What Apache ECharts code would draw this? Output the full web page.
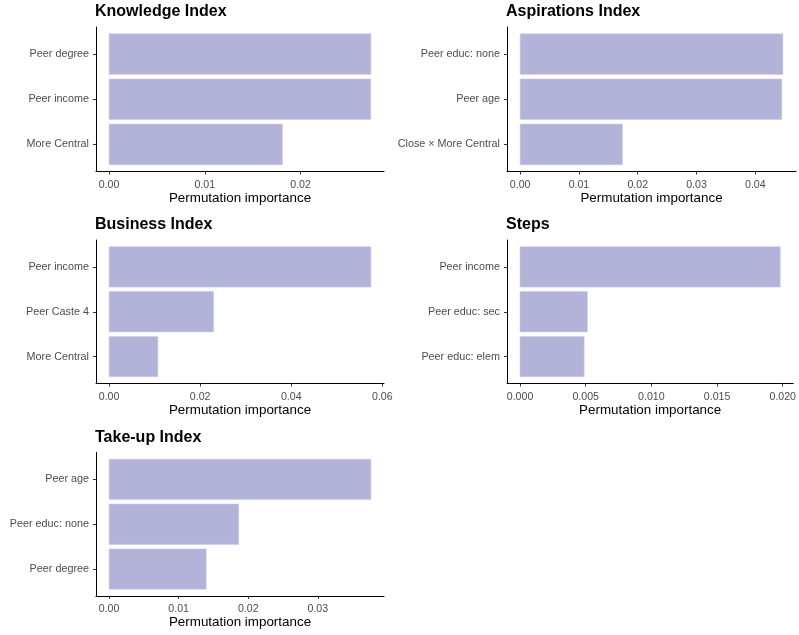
<!DOCTYPE html>
<html>
<head>
<meta charset="utf-8">
<title>Permutation importance</title>
<script src="https://cdn.jsdelivr.net/npm/echarts@6/dist/echarts.min.js"></script>
<style>
  html, body { margin: 0; padding: 0; background: #ffffff; }
  #chart { width: 799px; height: 635px; }
</style>
</head>
<body>
<div id="chart"></div>
<script>
// Top three predictors per outcome, ordered top to bottom
const knowledgeLabels = ['Peer degree', 'Peer income', 'More Central'];
const knowledgeValues = [0.02736, 0.02734, 0.01811];
const knowledgeTicks = [0, 0.01, 0.02];

const aspirationsLabels = ['Peer educ: none', 'Peer age', 'Close \u00d7 More Central'];
const aspirationsValues = [0.04468, 0.04450, 0.01740];
const aspirationsTicks = [0, 0.01, 0.02, 0.03, 0.04];

const businessLabels = ['Peer income', 'Peer Caste 4', 'More Central'];
const businessValues = [0.05749, 0.02295, 0.01071];
const businessTicks = [0, 0.02, 0.04, 0.06];

const stepsLabels = ['Peer income', 'Peer educ: sec', 'Peer educ: elem'];
const stepsValues = [0.01981, 0.00513, 0.00488];
const stepsTicks = [0, 0.005, 0.010, 0.015, 0.020];

const takeupLabels = ['Peer age', 'Peer educ: none', 'Peer degree'];
const takeupValues = [0.03763, 0.01863, 0.01396];
const takeupTicks = [0, 0.01, 0.02, 0.03];

const FONT = 'Liberation Sans, Helvetica, Arial, sans-serif';
const BAR_FILL = '#b3b3d9';

const panels = [
  { title: 'Knowledge Index',  labels: knowledgeLabels,   values: knowledgeValues,   ticks: knowledgeTicks,   digits: 2, box: [96, 27, 288, 144.5] },
  { title: 'Aspirations Index', labels: aspirationsLabels, values: aspirationsValues, ticks: aspirationsTicks, digits: 2, box: [507, 27, 289, 144.5] },
  { title: 'Business Index',   labels: businessLabels,    values: businessValues,    ticks: businessTicks,    digits: 2, box: [96, 240, 288, 143.5] },
  { title: 'Steps',            labels: stepsLabels,       values: stepsValues,       ticks: stepsTicks,       digits: 3, box: [507, 240, 289, 143.5] },
  { title: 'Take-up Index',    labels: takeupLabels,      values: takeupValues,      ticks: takeupTicks,      digits: 2, box: [96, 452.5, 288, 143.5] }
];

// Horizontal bar drawn from the value-axis origin to the bar's value
function renderBar(params, api) {
  const pos = api.value(1);
  const start = api.coord([0, pos]);
  const end = api.coord([api.value(0), pos]);
  const h = api.size([0, 0.9])[1];
  return {
    type: 'rect',
    shape: { x: start[0], y: start[1] - h / 2, width: end[0] - start[0], height: h },
    style: { fill: BAR_FILL, stroke: '#cbcbe6', lineWidth: 0.6 }
  };
}

const grid = [], xAxis = [], yAxis = [], series = [], title = [];

panels.forEach((p, i) => {
  const [left, top, width, height] = p.box;
  const maxVal = Math.max(...p.values);
  grid.push({ left: left, top: top, width: width, height: height, containLabel: false });

  title.push({
    text: p.title,
    left: left - 1,
    top: top - 23,
    padding: 0,
    textStyle: { fontFamily: FONT, fontSize: 16, fontWeight: 'bold', color: '#000000' }
  });

  xAxis.push({
    type: 'value',
    gridIndex: i,
    min: -0.05 * maxVal,
    max: 1.05 * maxVal,
    name: 'Permutation importance',
    nameLocation: 'middle',
    nameGap: 20,
    nameTextStyle: { fontFamily: FONT, fontSize: 13.4, color: '#000000' },
    axisLine: { show: true, onZero: false, lineStyle: { color: '#000000', width: 1 } },
    axisTick: { show: true, length: 3, customValues: p.ticks, lineStyle: { color: '#333333', width: 1 } },
    axisLabel: {
      customValues: p.ticks,
      margin: 8,
      fontFamily: FONT,
      fontSize: 10.6,
      color: '#4d4d4d',
      formatter: v => Number(v).toFixed(p.digits)
    },
    splitLine: { show: false }
  });

  yAxis.push({
    type: 'value',
    gridIndex: i,
    inverse: true,
    min: 0.4,
    max: 3.6,
    axisLine: { show: true, onZero: false, lineStyle: { color: '#000000', width: 1 } },
    axisTick: { show: true, length: 3, customValues: [1, 2, 3], lineStyle: { color: '#333333', width: 1 } },
    axisLabel: {
      customValues: [1, 2, 3],
      margin: 7,
      fontFamily: FONT,
      fontSize: 10.8,
      color: '#4d4d4d',
      formatter: v => p.labels[Math.round(v) - 1]
    },
    splitLine: { show: false }
  });

  series.push({
    type: 'custom',
    xAxisIndex: i,
    yAxisIndex: i,
    renderItem: renderBar,
    encode: { x: 0, y: 1 },
    data: p.values.map((v, k) => [v, k + 1]),
    silent: true
  });
});

const chart = echarts.init(document.getElementById('chart'), null, { renderer: 'canvas' });
chart.setOption({
  backgroundColor: '#ffffff',
  animation: false,
  title: title,
  grid: grid,
  xAxis: xAxis,
  yAxis: yAxis,
  series: series
});
</script>
</body>
</html>
